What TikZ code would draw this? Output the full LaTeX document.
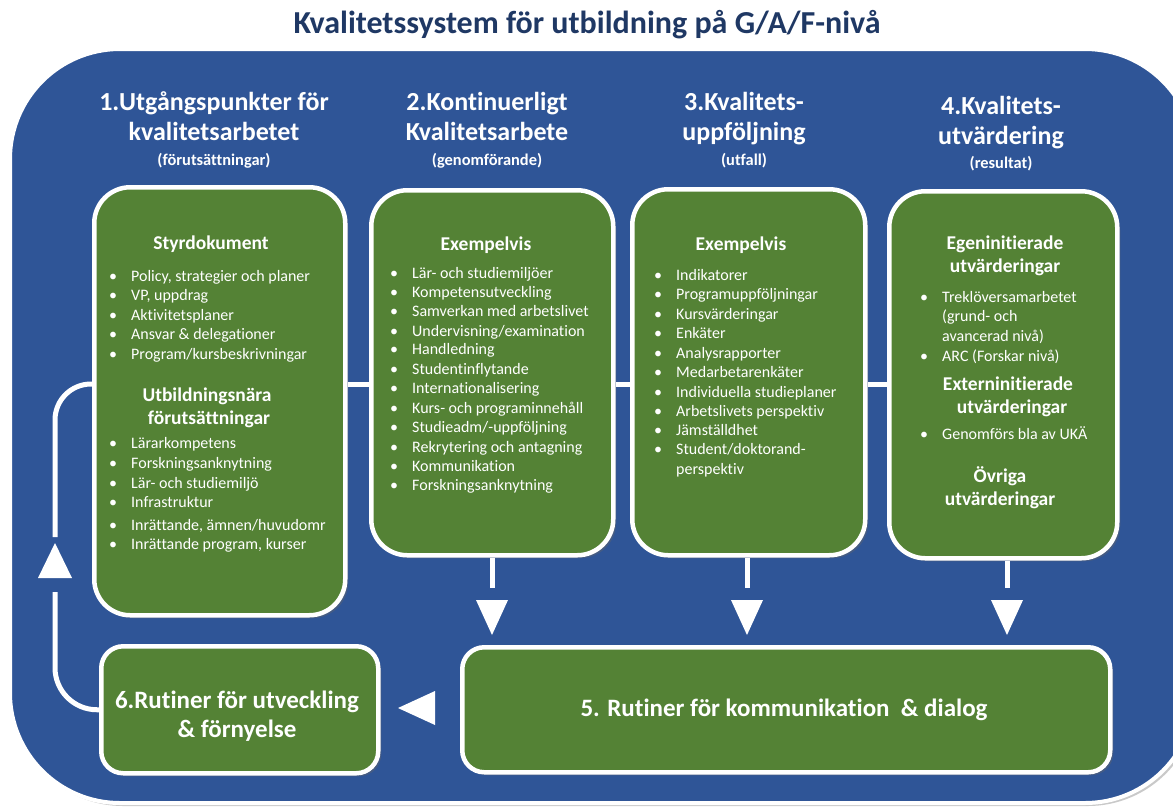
\documentclass[tikz,border=0pt]{standalone}
\usepackage{fontspec}
\setmainfont{Carlito}[Ligatures=NoCommon]
\usetikzlibrary{shadows}
\definecolor{bgblue}{HTML}{2F5597}
\definecolor{boxgreen}{HTML}{548235}
\definecolor{titleblue}{HTML}{1F3864}
\newcommand{\fs}[2]{\fontsize{#1}{#2}\selectfont}
\newcommand{\bul}{\makebox[0pt][r]{\textbullet\hspace{14pt}}}
\newcommand{\itm}[4]{\node[itxt] (#1) at (#2,#3+3) {\bul #4};}
\newcommand{\itn}[4]{\node[itxt] (#1) at (#2,#3+3) {#4};}
\begin{document}
\begin{tikzpicture}[x=1pt,y=-1pt,
  wline/.style={draw=white, line width=5pt},
  gbox/.style={draw=white, line width=4.5pt, fill=boxgreen, rounded corners=36pt, inner sep=0pt, anchor=north west,
    drop shadow={shadow xshift=3pt, shadow yshift=-3pt, opacity=0.4, fill=black!60}},
  gbox2/.style={gbox, rounded corners=22pt},
  htxt/.style={text=white, font=\fs{26}{30}\bfseries, anchor=mid, inner sep=0pt, yshift=-4pt},
  ltxt/.style={text=white, font=\fs{25}{30}\bfseries, anchor=mid, inner sep=0pt, yshift=-3pt},
  stxt/.style={text=white, font=\fs{16.4}{19}\bfseries, anchor=mid, inner sep=0pt, yshift=-3pt},
  btxt/.style={text=white, font=\fs{19.5}{23}\bfseries, anchor=mid, inner sep=0pt, yshift=-3pt},
  itxt/.style={text=white, font=\fs{16}{19.5}, anchor=mid west, inner sep=0pt},
  pics/tridown/.style={code={\fill[white] (0,0) -- (-16,-35) -- (16,-35) -- cycle;}},
  pics/triup/.style={code={\fill[white] (0,0) -- (-17,35) -- (17,35) -- cycle;}},
  pics/trileft/.style={code={\fill[white] (0,0) -- (37,-17) -- (37,17) -- cycle;}}]
\useasboundingbox (0,0) rectangle (1173,807);
\clip (0,0) rectangle (1173,807);
\fill[white] (0,0) rectangle (1173,807);

% title
\node[text=titleblue, font=\fs{32}{38}\bfseries, anchor=mid, inner sep=0pt] (title) at (587,31) {Kvalitetssystem för utbildning på G/A/F-nivå};

% blue background
\path[draw=white, line width=4pt, fill=bgblue, rounded corners=110pt,
  drop shadow={shadow xshift=3pt, shadow yshift=-3pt, opacity=0.35, fill=black!60}] (10,49) rectangle (1195,803);

% column headers
\node[htxt] (h1a) at (214,104) {1.Utgångspunkter för};
\node[htxt] (h1b) at (214,134) {kvalitetsarbetet};
\node[stxt] (h1c) at (214,160) {(förutsättningar)};
\node[htxt] (h2a) at (487,104) {2.Kontinuerligt};
\node[htxt] (h2b) at (487,134) {Kvalitetsarbete};
\node[stxt] (h2c) at (487,160) {(genomförande)};
\node[htxt] (h3a) at (744,104) {3.Kvalitets-};
\node[htxt] (h3b) at (744,134) {uppföljning};
\node[stxt] (h3c) at (744,160) {(utfall)};
\node[htxt] (h4a) at (1001,108) {4.Kvalitets-};
\node[htxt] (h4b) at (1001,138) {utvärdering};
\node[stxt] (h4c) at (1001,163) {(resultat)};

% boxes
\node[gbox, minimum width=251pt, minimum height=428pt] (b1) at (92,185) {};
\node[gbox, minimum width=242pt, minimum height=365pt] (b2) at (369,188) {};
\node[gbox, minimum width=233pt, minimum height=366pt] (b3) at (630,187) {};
\node[gbox, minimum width=228pt, minimum height=367pt] (b4) at (887,189) {};
\node[gbox2, minimum width=277pt, minimum height=127pt] (b6) at (99,644) {};
\node[gbox2, minimum width=648pt, minimum height=125pt] (b5) at (460,645) {};

% connectors
\coordinate (hl) at (0,384);
\draw[wline] (b1.east|-hl) -- (b2.west|-hl);
\draw[wline] (b2.east|-hl) -- (b3.west|-hl);
\draw[wline] (b3.east|-hl) -- (b4.west|-hl);
\coordinate (a2) at (492,588);
\coordinate (a3) at (747,588);
\coordinate (a4) at (1007,588);
\draw[wline] (b2.south-|a2) -- (a2);
\draw[wline] (b3.south-|a3) -- (a3);
\draw[wline] (b4.south-|a4) -- (a4);
\pic at (492,635) {tridown};
\pic at (747,635) {tridown};
\pic at (1007,635) {tridown};
\pic at (398,708) {trileft};
\coordinate (la) at (55,592);
\coordinate (lb) at (55,537);
\draw[wline, rounded corners=42pt] (b6.west) -| (la);
\draw[wline, rounded corners=36pt] (lb) |- (b1.west|-hl);
\pic at (55,543) {triup};

% box 1
\node[btxt] (k1a) at (211,244) {Styrdokument};
\itm{i1a}{131}{276}{Policy, strategier och planer}
\itm{i1b}{131}{295}{VP, uppdrag}
\itm{i1c}{131}{315}{Aktivitetsplaner}
\itm{i1d}{131}{334}{Ansvar \& delegationer}
\itm{i1e}{131}{354}{Program/kursbeskrivningar}
\node[btxt] (k1b) at (207,396) {Utbildningsnära};
\node[btxt] (k1c) at (209,419) {förutsättningar};
\itm{i1f}{131}{443}{Lärarkompetens}
\itm{i1g}{131}{463}{Forskningsanknytning}
\itm{i1h}{131}{483}{Lär- och studiemiljö}
\itm{i1i}{131}{502}{Infrastruktur}
\itm{i1j}{131}{525}{Inrättande, ämnen/huvudomr}
\itm{i1k}{131}{544}{Inrättande program, kurser}

% box 2
\node[btxt] (k2a) at (486,245) {Exempelvis};
\itm{i2a}{412}{273}{Lär- och studiemiljöer}
\itm{i2b}{412}{292}{Kompetensutveckling}
\itm{i2c}{412}{311}{Samverkan med arbetslivet}
\itm{i2d}{412}{331}{Undervisning/examination}
\itm{i2e}{412}{349}{Handledning}
\itm{i2f}{412}{369}{Studentinflytande}
\itm{i2g}{412}{388}{Internationalisering}
\itm{i2h}{412}{408}{Kurs- och programinnehåll}
\itm{i2i}{412}{427}{Studieadm/-uppföljning}
\itm{i2j}{412}{447}{Rekrytering och antagning}
\itm{i2k}{412}{466}{Kommunikation}
\itm{i2l}{412}{485}{Forskningsanknytning}

% box 3
\node[btxt] (k3a) at (741,245) {Exempelvis};
\itm{i3a}{676}{275}{Indikatorer}
\itm{i3b}{676}{294}{Programuppföljningar}
\itm{i3c}{676}{314}{Kursvärderingar}
\itm{i3d}{676}{333}{Enkäter}
\itm{i3e}{676}{353}{Analysrapporter}
\itm{i3f}{676}{372}{Medarbetarenkäter}
\itm{i3g}{676}{392}{Individuella studieplaner}
\itm{i3h}{676}{411}{Arbetslivets perspektiv}
\itm{i3i}{676}{430}{Jämställdhet}
\itm{i3j}{676}{449}{Student/doktorand-}
\itn{i3k}{676}{469}{perspektiv}

% box 4
\node[btxt] (k4a) at (1005,244) {Egeninitierade};
\node[btxt] (k4b) at (1005,267) {utvärderingar};
\itm{i4a}{942}{297}{Treklöversamarbetet}
\itn{i4b}{942}{316}{(grund- och}
\itn{i4c}{942}{336}{avancerad nivå)}
\itm{i4d}{942}{356}{ARC (Forskar nivå)}
\node[btxt] (k4c) at (1008,385) {Externinitierade};
\node[btxt] (k4d) at (1012,408) {utvärderingar};
\itm{i4e}{942}{434}{Genomförs bla av UKÄ}
\node[btxt] (k4e) at (1000,477) {Övriga};
\node[btxt] (k4f) at (1000,500) {utvärderingar};

% bottom texts
\node[ltxt] (t6a) at (237,703) {6.Rutiner för utveckling};
\node[ltxt] (t6b) at (237,732) {\& förnyelse};
\node[ltxt] (t5) at (784,711) {5. Rutiner för kommunikation\ \ \& dialog};
\end{tikzpicture}
\end{document}
